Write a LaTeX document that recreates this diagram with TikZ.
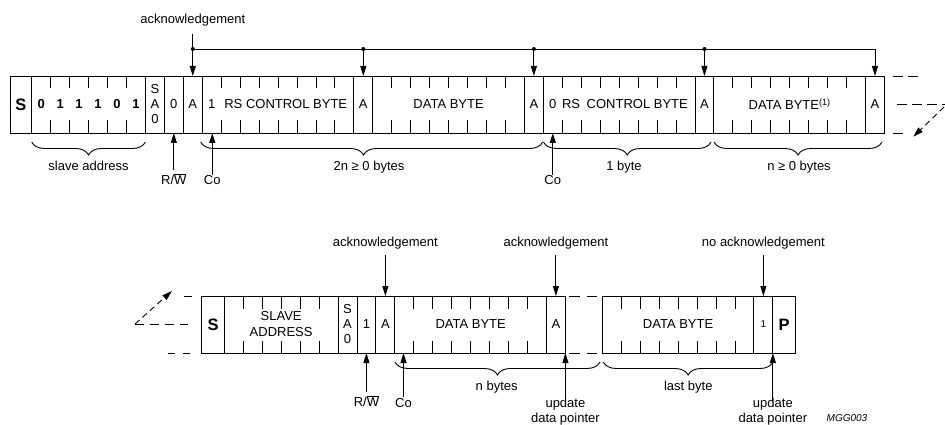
\documentclass[tikz,border=0pt]{standalone}
\usepackage{fontspec}
\setmainfont{Liberation Sans}
\usetikzlibrary{arrows.meta,decorations.pathreplacing}

\begin{document}
\begin{tikzpicture}[x=1pt, y=-1pt, >={Triangle[length=10pt,width=6pt]},
    line width=0.9pt, font=\fontsize{13}{15}\selectfont,
    cell/.style={draw, minimum width=#1, minimum height=57pt, inner sep=0pt,
      outer sep=0pt, anchor=north west},
    cell/.default=18.95pt,
    bigbit/.style={font=\fontsize{16.5}{18}\selectfont\bfseries},
    bitval/.style={font=\fontsize{13}{15}\selectfont\bfseries},
    lbl/.style={anchor=base},
    brc/.style={decorate, decoration={brace, mirror, amplitude=13pt, #1}},
    brc/.default={aspect=0.5},
    contline/.style={dash pattern=on 10pt off 5pt}]
  \useasboundingbox (0,0) rectangle (945,425);

  % Write sequence
  \node[cell=21.7pt, bigbit] (sTop) at (10,76) {S};
  \node[cell=113.7pt] (addrTop) at (sTop.north east) {};
  \node[cell, align=center] (saTop) at (addrTop.north east) {S\\A\\0};
  \node[cell] (rwTop) at (saTop.north east) {0};
  \node[cell] (ackA) at (rwTop.north east) {A};
  \node[cell=151.6pt] (ctlA) at (ackA.north east) {};
  \node[cell] (ackB) at (ctlA.north east) {A};
  \node[cell=151.6pt] (datA) at (ackB.north east) {DATA BYTE};
  \node[cell] (ackC) at (datA.north east) {A};
  \node[cell=151.6pt] (ctlB) at (ackC.north east) {};
  \node[cell] (ackD) at (ctlB.north east) {A};
  \node[cell=151.6pt] (datB) at (ackD.north east) {DATA BYTE\textsuperscript{(1)}};
  \node[cell] (ackE) at (datB.north east) {A};

  % Bit ticks
  \foreach \cel/\nb in {addrTop/5, ctlA/7, datA/7, ctlB/7, datB/7} {
    \foreach \k in {1,...,\nb} {
      \draw (\cel.north west) ++(\k*18.95,0) -- ++(0,12.5);
      \draw (\cel.south west) ++(\k*18.95,0) -- ++(0,-12.5);
    }
  }

  % Slave address bits
  \foreach \bitv [count=\k] in {0,1,1,1,0,1}
    \path (addrTop.west) ++(\k*18.95-9.475,0) node[bitval] (bit\k) {\bitv};

  % Control bytes
  \path (ctlA.west) ++(9.475,0) node (coA) {1};
  \path (ctlA.west) ++(83.5,0) node (rsA) {RS CONTROL BYTE};
  \path (ctlB.west) ++(9.475,0) node (coB) {0};
  \path (ctlB.west) ++(81.6,0) node (rsB) {RS\hspace{3pt} CONTROL BYTE};

  % Acknowledgements
  \node[lbl] (lblAckTop) at (ackA.north |- 0,24) {acknowledgement};
  \coordinate (busA) at (ackA.north |- 0,49);
  \draw[->, shorten <=4pt] (lblAckTop) -- (ackA);
  \draw[->] (busA) -- (ackE.north |- busA) -- (ackE);
  \fill (busA) circle (2pt);
  \foreach \a in {ackB, ackC, ackD} {
    \fill (\a.north |- busA) circle (2pt);
    \draw[->] (\a.north |- busA) -- (\a);
  }

  % Braces
  \draw[brc] (addrTop.south west |- 0,142) -- (addrTop.south east |- 0,142);
  \draw[brc={aspect=0.476}] (200.7,142) -- (542.7,142);
  \draw[brc] (543.5,142) -- (711,142);
  \draw[brc] (714,142) -- (882,142);
  \node[lbl] (lblSlave) at (addrTop.south |- 0,171) {slave address};
  \node[lbl] (lbl2n) at (369,171) {2n ≥ 0 bytes};
  \node[lbl] (lbl1b) at (624,171) {1 byte};
  \node[lbl] (lblNb) at (799,171) {n ≥ 0 bytes};

  % R/W and Co
  \node[lbl] (lblRwTop) at (rwTop.south |- 0,184.3) {R/$\overline{\mbox{W}}$};
  \draw[->] (lblRwTop) -- (rwTop);
  \node[lbl] (lblCoA) at (212.3,184.5) {Co};
  \draw[->, shorten <=-3pt] (lblCoA) -- (lblCoA |- ctlA.south);
  \node[lbl] (lblCoB) at (552.8,184.5) {Co};
  \draw[->, shorten <=-3pt] (lblCoB) -- (lblCoB |- ctlB.south);

  % Continues
  \draw[contline] (892.7,76) -- (918,76);
  \draw[contline] (896.7,104) -- (945,104);
  \draw (892.7,133) -- (902.7,133);
  \draw[->, dash pattern=on 6pt off 4pt] (944,107) -- (913.3,136.7);

  % Read sequence
  \node[cell=22.6pt, bigbit] (sBot) at (201.7,296) {S};
  \node[cell=113.7pt, align=center, font=\fontsize{13}{16}\selectfont] (addrBot) at (sBot.north east) {SLAVE\\ADDRESS};
  \node[cell, align=center] (saBot) at (addrBot.north east) {S\\A\\0};
  \node[cell] (rwBot) at (saBot.north east) {1};
  \node[cell] (ackF) at (rwBot.north east) {A};
  \node[cell=151.6pt] (datC) at (ackF.north east) {DATA BYTE};
  \node[cell] (ackG) at (datC.north east) {A};
  \node[cell=151.6pt] (datD) at (602.3,296) {DATA BYTE};
  \node[cell, font=\fontsize{10}{12}\selectfont] (nackH) at (datD.north east) {1};
  \node[cell=22.6pt, bigbit] (pBot) at (nackH.north east) {P};

  \foreach \cel/\nb in {addrBot/5, datC/7, datD/7} {
    \foreach \k in {1,...,\nb} {
      \draw (\cel.north west) ++(\k*18.95,0) -- ++(0,12.5);
      \draw (\cel.south west) ++(\k*18.95,0) -- ++(0,-12.5);
    }
  }

  % Gaps
  \draw[dash pattern=on 10.7pt off 6.7pt] (569.3,296) -- (598,296);
  \draw[dash pattern=on 10.7pt off 6.7pt] (569.3,353) -- (598,353);
  \draw (184,296) -- (191.7,296);
  \draw[dash pattern=on 9pt off 6pt] (135,324) -- (188.3,324);
  \draw[dash pattern=on 7pt off 8pt] (168.3,353) -- (191.7,353);
  \draw[->, dash pattern=on 6pt off 4pt] (135,324) -- (172,291);

  % Acknowledgements
  \node[lbl] (lblAckF) at (ackF.north |- 0,246) {acknowledgement};
  \draw[->, shorten <=3pt] (lblAckF) -- (ackF);
  \node[lbl] (lblAckG) at (ackG.north |- 0,246) {acknowledgement};
  \draw[->, shorten <=3pt] (lblAckG) -- (ackG);
  \node[lbl] (lblNack) at (nackH.north |- 0,246) {no acknowledgement};
  \draw[->, shorten <=3pt] (lblNack) -- (nackH);

  % Braces
  \draw[brc] (395,362) -- (600,362);
  \draw[brc] (603.3,362) -- (773,362);
  \node[lbl] (lblNbytes) at (496.7,390) {n bytes};
  \node[lbl] (lblLast) at (688.3,390) {last byte};

  % R/W, Co and pointer
  \node[lbl] (lblRwBot) at (rwBot.south |- 0,406.7) {R/$\overline{\mbox{W}}$};
  \draw[->] (lblRwBot) -- (rwBot);
  \node[lbl] (lblCoC) at (403.5,407) {Co};
  \draw[->, shorten <=-3pt] (lblCoC) -- (lblCoC |- datC.south);
  \node[anchor=north, align=center] (lblUpdA) at (ackG.south east |- 0,394) {update\\data pointer};
  \draw[->, shorten <=-7pt] (lblUpdA) -- (ackG.south east);
  \node[anchor=north, align=center] (lblUpdB) at (nackH.south east |- 0,394) {update\\data pointer};
  \draw[->, shorten <=-7pt] (lblUpdB) -- (nackH.south east);
  \node[lbl, font=\fontsize{10}{12}\selectfont\itshape] (code) at (847,421) {MGG003};
\end{tikzpicture}
\end{document}
